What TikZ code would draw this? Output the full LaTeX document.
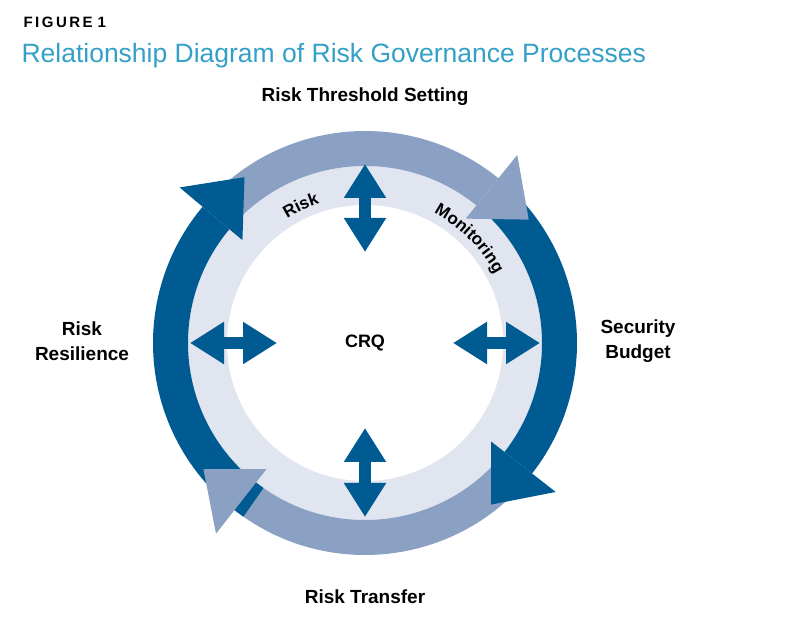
\documentclass[tikz,border=0pt]{standalone}
\usepackage{fontspec}
\setmainfont{Liberation Sans}
\usetikzlibrary{arrows.meta,decorations.text}

\definecolor{riskdark}{RGB}{0,91,146}
\definecolor{risklight}{RGB}{139,161,196}
\definecolor{riskring}{RGB}{224,229,240}
\definecolor{risktitle}{RGB}{52,160,200}

% ring arrow: start angle, head base angle, tip angle, colour
\newcommand{\ringbody}[3]{%
  \fill[#3] (#1:177) arc[start angle=#1,end angle=#2,radius=177]
    -- (#2:212) arc[start angle=#2,end angle=#1,radius=212] -- cycle;}
\newcommand{\ringhead}[3]{%
  \fill[#3] (#1:160) -- (#2:205) -- (#1:242) -- cycle;}

\begin{document}
\begin{tikzpicture}[x=1pt,y=1pt,
  label text/.style={font=\bfseries\fontsize{19}{25}\selectfont,align=center},
  swap arrow/.style={riskdark,line width=12pt,
    {Triangle[length=34pt,width=40pt]}-{Triangle[length=34pt,width=40pt]}}]

  \useasboundingbox (0,0) rectangle (800,623);

  \node[anchor=west,font=\bfseries\fontsize{15}{17}\selectfont] (fig) at (20,601) {F\,I\,G\,U\,R\,E\,\,1};
  \node[anchor=west,text=risktitle,font=\fontsize{26.5}{30}\selectfont] (title) at (18,567)
    {Relationship Diagram of Risk Governance Processes};

  \begin{scope}[shift={(365,280)}]
    \fill[riskring] (0,0) circle[radius=177];
    \fill[white] (0,0) circle[radius=138];

    % ring arrows
    \ringbody{135}{51}{risklight}
    \ringbody{48}{-38}{riskdark}
    \ringbody{-40}{-128}{risklight}
    \ringbody{-125}{-220}{riskdark}
    \ringhead{51}{37}{risklight}
    \ringhead{-38}{-52}{riskdark}
    \ringhead{-128}{-142}{risklight}
    \ringhead{140}{126}{riskdark}

    % curved labels
    \path[decorate,decoration={text along path,text align=center,
      text={|\bfseries\fontsize{17}{20}\selectfont|Risk}}]
      (130:147) arc[start angle=130,end angle=100,radius=147];
    \path[decorate,decoration={text along path,text align=center,
      text={|\bfseries\fontsize{17}{20}\selectfont|Monitoring}}]
      (74:147) arc[start angle=74,end angle=16,radius=147];

    \node[font=\bfseries\fontsize{18}{21}\selectfont] (crq) at (0,0) {CRQ};

    \coordinate (top a) at (0,179);  \coordinate (top b) at (0,91);
    \coordinate (bot a) at (0,-85);  \coordinate (bot b) at (0,-174);
    \coordinate (lft a) at (-175,0); \coordinate (lft b) at (-88,0);
    \coordinate (rgt a) at (88,0);   \coordinate (rgt b) at (175,0);
    \draw[swap arrow] (top a) -- (top b);
    \draw[swap arrow] (bot a) -- (bot b);
    \draw[swap arrow] (lft a) -- (lft b);
    \draw[swap arrow] (rgt a) -- (rgt b);
  \end{scope}

  \node[label text] (threshold) at (365,526) {Risk Threshold Setting};
  \node[label text] (budget) at (638,282) {Security\\Budget};
  \node[label text] (resilience) at (82,282) {Risk\\Resilience};
  \node[label text] (transfer) at (365,26) {Risk Transfer};
\end{tikzpicture}
\end{document}
